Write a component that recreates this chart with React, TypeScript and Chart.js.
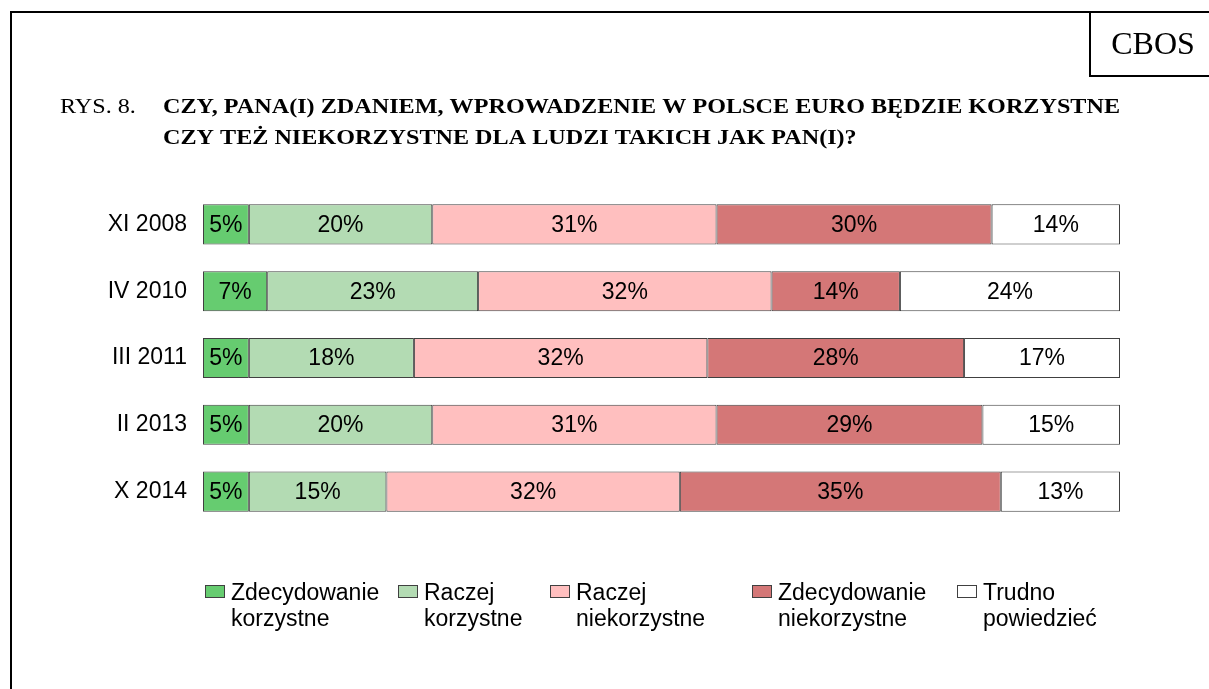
import React, { useEffect, useRef } from "react";
import { Chart, registerables } from "chart.js";

Chart.register(...registerables);

const categories = ["XI 2008", "IV 2010", "III 2011", "II 2013", "X 2014"];
const seriesNames = [
  ["Zdecydowanie", "korzystne"],
  ["Raczej", "korzystne"],
  ["Raczej", "niekorzystne"],
  ["Zdecydowanie", "niekorzystne"],
  ["Trudno", "powiedzieć"],
];
const zdecydowanieKorzystne = [5, 7, 5, 5, 5];
const raczejKorzystne = [20, 23, 18, 20, 15];
const raczejNiekorzystne = [31, 32, 32, 31, 32];
const zdecydowanieNiekorzystne = [30, 14, 28, 29, 35];
const trudnoPowiedziec = [14, 24, 17, 15, 13];
const seriesColors = ["#66CC70", "#B3DBB3", "#FFBFBF", "#D47777", "#FFFFFF"];

const titlePrefix = "RYS. 8.";
const titleLines = [
  "CZY, PANA(I) ZDANIEM, WPROWADZENIE W POLSCE EURO BĘDZIE KORZYSTNE",
  "CZY TEŻ NIEKORZYSTNE DLA LUDZI TAKICH JAK PAN(I)?",
];
const brand = "CBOS";

const SANS = "'Liberation Sans', Arial, sans-serif";
const SERIF = "'Liberation Serif', 'Times New Roman', serif";

const framePlugin = {
  id: "frame",
  beforeDraw(chart: any) {
    const ctx = chart.ctx;
    const W = chart.width;
    const H = chart.height;
    ctx.save();
    ctx.fillStyle = "#fff";
    ctx.fillRect(0, 0, W, H);
    ctx.strokeStyle = "#000";
    ctx.lineWidth = 2;
    ctx.beginPath();
    ctx.moveTo(11, H);
    ctx.lineTo(11, 12);
    ctx.lineTo(W, 12);
    ctx.moveTo(1090, 12);
    ctx.lineTo(1090, 76);
    ctx.lineTo(W, 76);
    ctx.stroke();
    ctx.fillStyle = "#000";
    ctx.textBaseline = "alphabetic";
    ctx.textAlign = "center";
    ctx.font = `32px ${SERIF}`;
    ctx.fillText(brand, 1153, 54);
    ctx.textAlign = "left";
    // title is slightly wide in the original: stretch horizontally to fit
    ctx.font = `bold 22px ${SERIF}`;
    const w0 = ctx.measureText(titleLines[0]).width;
    const sx = (1120 - 163) / w0;
    ctx.save();
    ctx.scale(sx, 1);
    titleLines.forEach((t, i) => ctx.fillText(t, 163 / sx, 113 + i * 31));
    ctx.font = `22px ${SERIF}`;
    ctx.fillText(titlePrefix, 60 / sx, 113);
    ctx.restore();
    ctx.restore();
  },
};

const valueLabelPlugin = {
  id: "valueLabels",
  afterDatasetsDraw(chart: any) {
    const ctx = chart.ctx;
    ctx.save();
    ctx.fillStyle = "#000";
    ctx.font = `23px ${SANS}`;
    ctx.textAlign = "center";
    ctx.textBaseline = "middle";
    chart.data.datasets.forEach((ds: any, di: number) => {
      const meta = chart.getDatasetMeta(di);
      meta.data.forEach((el: any, i: number) => {
        const cx = (el.x + el.base) / 2;
        ctx.fillText(`${ds.data[i]}%`, cx, el.y + 1);
      });
    });
    ctx.restore();
  },
};

const legendX = [205, 398, 550, 752, 957];

const legendPlugin = {
  id: "customLegend",
  afterDraw(chart: any) {
    const ctx = chart.ctx;
    ctx.save();
    ctx.font = `23px ${SANS}`;
    ctx.textAlign = "left";
    ctx.textBaseline = "alphabetic";
    chart.data.datasets.forEach((ds: any, i: number) => {
      const x = legendX[i];
      ctx.fillStyle = ds.backgroundColor;
      ctx.fillRect(x, 585, 20, 13);
      ctx.strokeStyle = "#404040";
      ctx.lineWidth = 1;
      ctx.strokeRect(x + 0.5, 585.5, 19, 12);
      ctx.fillStyle = "#000";
      const lines: string[] = ds.labelLines;
      lines.forEach((l, j) => ctx.fillText(l, x + 26, 600 + j * 26));
    });
    ctx.restore();
  },
};

export default function App() {
  const ref = useRef<HTMLCanvasElement | null>(null);
  useEffect(() => {
    if (!ref.current) return;
    const series = [
      zdecydowanieKorzystne,
      raczejKorzystne,
      raczejNiekorzystne,
      zdecydowanieNiekorzystne,
      trudnoPowiedziec,
    ];
    const chart = new Chart(ref.current, {
      type: "bar",
      data: {
        labels: categories,
        datasets: series.map((d, i) => ({
          label: seriesNames[i].join(" "),
          labelLines: seriesNames[i],
          data: d,
          backgroundColor: seriesColors[i],
          borderColor: "#404040",
          borderWidth: 1,
          borderSkipped: false,
          barPercentage: 0.6,
          categoryPercentage: 1,
        })) as any,
      },
      options: {
        indexAxis: "y",
        responsive: false,
        animation: false,
        devicePixelRatio: 1,
        layout: { padding: { left: 0, right: 89, top: 191, bottom: 164 } },
        plugins: {
          legend: { display: false },
          tooltip: { enabled: false },
          title: { display: false },
        },
        scales: {
          x: {
            stacked: true,
            min: 0,
            max: 100,
            display: false,
          },
          y: {
            stacked: true,
            grid: { display: false, drawTicks: false },
            border: { display: false },
            ticks: {
              color: "#000",
              padding: 16,
              font: { family: SANS, size: 23 },
            },
            afterFit(scale: any) {
              scale.width = 203;
            },
          },
        },
      },
      plugins: [framePlugin, valueLabelPlugin, legendPlugin],
    });
    return () => chart.destroy();
  }, []);
  return (
    <div style={{ position: "absolute", left: 0, top: 0, width: 1209, height: 689 }}>
      <canvas ref={ref} width={1209} height={689} style={{ display: "block" }} />
    </div>
  );
}
